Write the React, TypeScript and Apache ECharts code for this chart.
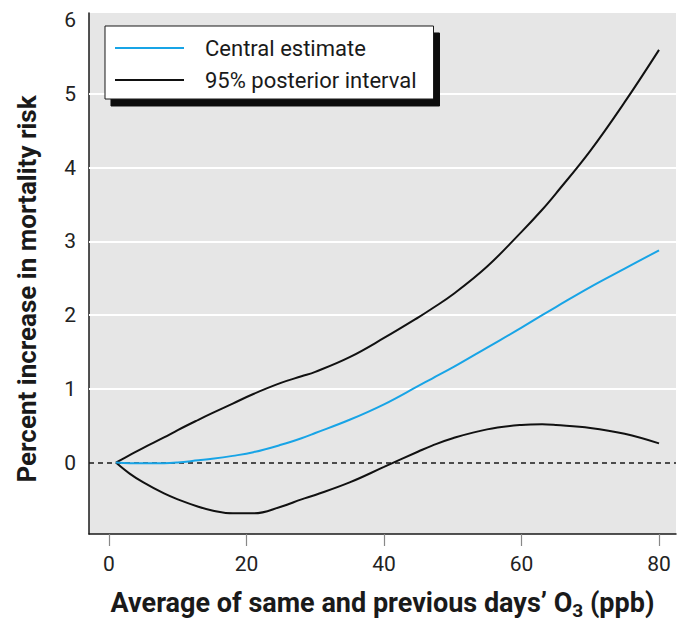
import React, { useEffect, useRef } from "react";
import * as echarts from "echarts";

const ozone = [1, 3, 5, 8, 10, 13, 15, 18, 21, 25, 28, 30, 35, 40, 45, 47, 50, 55, 60, 63, 65, 70, 75, 80];
const centralEstimate = [0, -0.01, -0.01, -0.01, 0.0, 0.03, 0.05, 0.09, 0.14, 0.24, 0.33, 0.4, 0.58, 0.79, 1.04, 1.14, 1.29, 1.56, 1.83, 2.0, 2.11, 2.38, 2.63, 2.88];
const upperBound = [0, 0.1, 0.2, 0.34, 0.44, 0.58, 0.67, 0.8, 0.93, 1.08, 1.17, 1.23, 1.43, 1.69, 1.97, 2.09, 2.28, 2.66, 3.13, 3.43, 3.65, 4.23, 4.89, 5.6];
const lowerBound = [0, -0.15, -0.27, -0.42, -0.5, -0.6, -0.65, -0.69, -0.69, -0.6, -0.5, -0.44, -0.27, -0.06, 0.15, 0.23, 0.33, 0.45, 0.51, 0.52, 0.51, 0.47, 0.39, 0.26];
const xTicks = [0, 20, 40, 60, 80];
const yTicks = [0, 1, 2, 3, 4, 5, 6];
const gridLines = [1, 2, 3, 4, 5];

const FONT = "Roboto, 'Liberation Sans', sans-serif";

export default function App() {
  const ref = useRef<HTMLDivElement>(null);
  useEffect(() => {
    if (!ref.current) return;
    const chart = echarts.init(ref.current, null, { renderer: "svg" });
    const pair = (ys: number[]) => ozone.map((x, i) => [x, ys[i]]);
    chart.setOption({
      animation: false,
      backgroundColor: "#ffffff",
      grid: {
        left: 89,
        right: 6,
        top: 13,
        bottom: 97,
        show: true,
        backgroundColor: "#e6e6e6",
        borderWidth: 0,
      },
      xAxis: {
        type: "value",
        min: -2.91,
        max: 82.47,
        name: "Average of same and previous days’ O{sub|3} (ppb)",
        nameLocation: "middle",
        nameGap: 52,
        nameTextStyle: {
          fontFamily: FONT,
          fontWeight: "bold",
          fontSize: 27,
          color: "#1a1a1a",
          lineHeight: 34,
          rich: {
            sub: { fontFamily: FONT, fontWeight: "bold", fontSize: 19, lineHeight: 19, verticalAlign: "bottom", color: "#1a1a1a" },
          },
        },
        axisLine: { show: true, onZero: false, lineStyle: { color: "#1a1a1a", width: 1.5 } },
        axisTick: { show: true, customValues: xTicks, length: 12, lineStyle: { color: "#888", width: 1.2 } },
        axisLabel: { customValues: xTicks, margin: 19, fontFamily: FONT, fontSize: 21, color: "#222" },
        splitLine: { show: false },
      },
      yAxis: {
        type: "value",
        min: -0.97,
        max: 6.1,
        axisLine: { show: true, onZero: false, lineStyle: { color: "#1a1a1a", width: 1.5 } },
        axisTick: { show: false },
        axisLabel: { customValues: yTicks, margin: 13, fontFamily: FONT, fontSize: 21, color: "#222" },
        splitLine: { show: false },
      },
      legend: {
        orient: "vertical",
        left: 105,
        top: 26,
        padding: [9, 17, 6, 10],
        itemGap: 6,
        itemWidth: 69,
        itemHeight: 2,
        icon: "rect",
        backgroundColor: "#ffffff",
        borderColor: "#1a1a1a",
        borderWidth: 1,
        shadowColor: "#111",
        shadowBlur: 0,
        shadowOffsetX: 6,
        shadowOffsetY: 7,
        textStyle: { fontFamily: FONT, fontSize: 22, color: "#1a1a1a", lineHeight: 26, padding: [0, 0, 0, 16] },
        data: ["Central estimate", "95% posterior interval"],
      },
      graphic: [
        {
          type: "text",
          x: 27,
          y: 289,
          rotation: Math.PI / 2,
          style: {
            text: "Percent increase in mortality risk",
            fontFamily: FONT,
            fontWeight: "bold",
            fontSize: 26,
            fill: "#1a1a1a",
            align: "center",
            verticalAlign: "middle",
          },
        },
      ],
      series: [
        {
          name: "Central estimate",
          type: "line",
          data: pair(centralEstimate),
          smooth: 0.4,
          symbol: "none",
          lineStyle: { color: "#18a4e6", width: 2 },
          itemStyle: { color: "#18a4e6" },
          z: 4,
          markLine: {
            silent: true,
            symbol: "none",
            label: { show: false },
            data: [
              ...gridLines.map((v) => ({ yAxis: v, lineStyle: { color: "#ffffff", width: 2, type: "solid" } })),
              { yAxis: 0, lineStyle: { color: "#1a1a1a", width: 1.5, type: [5, 4] } },
            ],
            z: 1,
          },
        },
        {
          name: "95% posterior interval",
          type: "line",
          data: pair(upperBound),
          smooth: 0.4,
          symbol: "none",
          lineStyle: { color: "#111111", width: 2 },
          itemStyle: { color: "#111111" },
          z: 3,
        },
        {
          name: "95% posterior interval",
          type: "line",
          data: pair(lowerBound),
          smooth: 0.4,
          symbol: "none",
          lineStyle: { color: "#111111", width: 2 },
          itemStyle: { color: "#111111" },
          z: 3,
        },
      ],
    });
    return () => chart.dispose();
  }, []);
  return <div ref={ref} style={{ width: 682, height: 631, position: "absolute", left: 0, top: 0 }} />;
}
